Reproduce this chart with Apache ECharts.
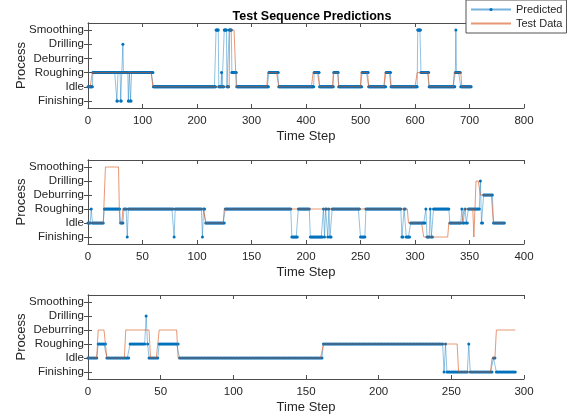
<!DOCTYPE html>
<html>
<head>
<meta charset="utf-8">
<script src="https://cdn.jsdelivr.net/npm/echarts@6/dist/echarts.min.js"></script>
<style>
  html, body { margin: 0; padding: 0; background: #fff; }
  #chart { width: 569px; height: 418px; }
</style>
</head>
<body>
<div id="chart"></div>
<script>
// Process levels (bottom to top)
const levels = ['Finishing', 'Idle', 'Roughing', 'Deburring', 'Drilling', 'Smoothing'];
// indices: 0 Finishing, 1 Idle, 2 Roughing, 3 Deburring, 4 Drilling, 5 Smoothing

// Run-length readings: [startStep, levelIndex]
const pred1Runs = [[0,1],[9,2],[53,0],[55,2],[60,0],[62,2],[64,4],[65,2],[74,0],[76,2],[78,0],[80,2],[120,1],
  [235,5],[240,1],[245,2],[246,1],[250,5],[255,1],[259,5],[264,2],[273,1],[332,2],[350,1],[415,2],[425,1],
  [451,2],[460,1],[503,2],[515,1],[547,2],[556,1],[605,5],[611,2],[626,1],[674,2],[675,5],[676,2],[684,1]];
const test1Runs = [[0,1],[8,2],[119,1],[260,5],[272,1],[330,2],[350,1],[413,2],[425,1],[450,2],[460,1],
  [501,2],[515,1],[545,2],[556,1],[604,2],[626,1],[672,2],[686,1]];
const len1 = 704;

const pred2Runs = [[0,1],[3,2],[4,1],[15,2],[30,1],[33,2],[36,0],[37,2],[79,0],[80,2],[105,0],[106,2],[108,1],
  [126,2],[187,0],[193,2],[204,0],[216,2],[217,0],[218,2],[220,0],[221,2],[222,0],[224,2],[250,0],[255,2],
  [288,0],[290,2],[292,0],[296,1],[310,2],[311,0],[314,2],[315,0],[317,2],[332,1],[343,2],[344,1],[346,2],
  [347,1],[349,2],[360,4],[361,1],[363,3],[372,1]];
const test2Runs = [[0,1],[16,5],[29,1],[32,2],[108,1],[125,2],[294,1],[308,0],[331,1],[345,2],[354,0],
  [356,4],[360,3],[372,1]];
const len2 = 383;

const pred3Runs = [[0,1],[7,2],[13,1],[29,2],[40,4],[41,2],[42,1],[49,2],[63,1],[162,2],[245,0],[246,2],
  [247,0],[262,2],[263,0],[279,1],[281,0]];
const test3Runs = [[0,1],[7,3],[13,1],[26,3],[43,1],[49,3],[62,1],[162,2],[255,0],[278,1],[281,3]];
const len3 = 295;

const xMaxes = [800, 400, 300];
const xIntervals = [100, 50, 50];

function expand(runs, len) {
  const out = [];
  let r = 0;
  for (let s = 0; s < len; s++) {
    while (r + 1 < runs.length && runs[r + 1][0] <= s) r++;
    out.push([s, runs[r][1]]);
  }
  return out;
}

const predData = [expand(pred1Runs, len1), expand(pred2Runs, len2), expand(pred3Runs, len3)];
const testData = [expand(test1Runs, len1), expand(test2Runs, len2), expand(test3Runs, len3)];

const FONT = 'Liberation Sans, Arial, Helvetica, sans-serif';
const AX = '#4d4d4d';
const TXT = '#262626';

const grids = [
  { left: 88, right: 45, top: 23, height: 85, outerBoundsMode: 'none', containLabel: false },
  { left: 88, right: 45, top: 160, height: 84, outerBoundsMode: 'none', containLabel: false },
  { left: 88, right: 45, top: 295, height: 84, outerBoundsMode: 'none', containLabel: false }
];

const xAxes = [], yAxes = [], series = [];
for (let i = 0; i < 3; i++) {
  xAxes.push({
    gridIndex: i, type: 'value', min: 0, max: xMaxes[i], interval: xIntervals[i], position: 'bottom',
    name: 'Time Step', nameLocation: 'middle', nameGap: 22, nameMoveOverlap: false,
    nameTextStyle: { fontFamily: FONT, fontSize: 13, color: TXT },
    axisLine: { show: true, lineStyle: { color: AX, width: 1 } },
    axisTick: { show: true, inside: true, length: 4, lineStyle: { color: AX } },
    axisLabel: { fontFamily: FONT, fontSize: 11.5, color: TXT, margin: 7 },
    splitLine: { show: false }
  });
  xAxes.push({
    gridIndex: i, type: 'value', min: 0, max: xMaxes[i], interval: xIntervals[i], position: 'top',
    axisLine: { show: true, lineStyle: { color: AX, width: 1 } },
    axisTick: { show: true, inside: true, length: 4, lineStyle: { color: AX } },
    axisLabel: { show: false }, splitLine: { show: false }
  });
  yAxes.push({
    gridIndex: i, type: 'category', data: levels, boundaryGap: true, position: 'left',
    name: 'Process', nameLocation: 'middle', nameRotate: 90, nameGap: 60, nameMoveOverlap: false,
    nameTextStyle: { fontFamily: FONT, fontSize: 13, color: TXT },
    axisLine: { show: true, lineStyle: { color: AX, width: 1 } },
    axisTick: { show: true, inside: true, length: 4, alignWithLabel: true, lineStyle: { color: AX } },
    axisLabel: { fontFamily: FONT, fontSize: 11.5, color: TXT, margin: 4, interval: 0 },
    splitLine: { show: false }
  });
  yAxes.push({
    gridIndex: i, type: 'category', data: levels, boundaryGap: true, position: 'right',
    axisLine: { show: true, lineStyle: { color: AX, width: 1 } },
    axisTick: { show: true, inside: true, length: 4, alignWithLabel: true, interval: 0, lineStyle: { color: AX } },
    axisLabel: { show: false }, splitLine: { show: false }
  });
  series.push({
    name: 'Predicted', type: 'line', xAxisIndex: 2 * i, yAxisIndex: 2 * i,
    data: predData[i], symbol: 'circle', symbolSize: 3, showSymbol: true, showAllSymbol: true,
    itemStyle: { color: '#0072BD' },
    lineStyle: { color: '#0072BD', width: 0.8, opacity: 0.55 },
    emphasis: { disabled: true }, z: 2
  });
  series.push({
    name: 'Test Data', type: 'line', xAxisIndex: 2 * i, yAxisIndex: 2 * i,
    data: testData[i], symbol: 'none', showSymbol: false,
    itemStyle: { color: '#D95319' },
    lineStyle: { color: '#D95319', width: 1, opacity: 0.6 },
    emphasis: { disabled: true }, z: 3
  });
}

const chart = echarts.init(document.getElementById('chart'), null, { renderer: 'canvas' });
chart.setOption({
  animation: false,
  backgroundColor: '#fff',
  title: {
    text: 'Test Sequence Predictions', left: 307, top: 5, textAlign: 'center',
    textStyle: { fontFamily: FONT, fontSize: 12.5, fontWeight: 'bold', color: '#000' }
  },
  legend: {
    data: [
      { name: 'Predicted', itemStyle: { opacity: 1 } },
      { name: 'Test Data', itemStyle: { opacity: 0 } }
    ],
    orient: 'vertical', left: 466, top: 0,
    padding: [4, 4, 4, 4], itemGap: 3, itemWidth: 40, itemHeight: 4,
    backgroundColor: '#fff', borderColor: '#555', borderWidth: 1,
    textStyle: { fontFamily: FONT, fontSize: 11, color: TXT }
  },
  grid: grids,
  xAxis: xAxes,
  yAxis: yAxes,
  series: series
});
</script>
</body>
</html>
